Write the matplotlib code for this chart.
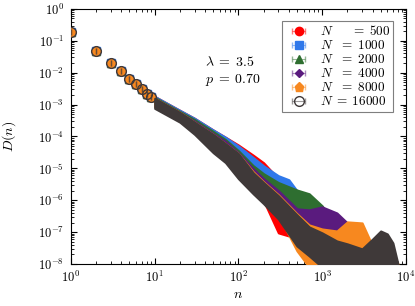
import numpy as np
import matplotlib
matplotlib.use("Agg")
import matplotlib.pyplot as plt

plt.rcParams["font.family"] = "serif"
plt.rcParams["font.serif"] = ["cmr10", "DejaVu Serif"]
plt.rcParams["mathtext.fontset"] = "cm"
plt.rcParams["axes.formatter.use_mathtext"] = True

# first points, identical for every N
n_head = [1, 2, 3, 4, 5, 6, 7, 8, 9]
D_head = [0.19, 0.048, 0.020, 0.011, 0.0064, 0.0044, 0.0030, 0.0022, 0.0017]

# band of points (upper / lower envelope) for larger n
n_500 = [10, 20, 30, 50, 70, 100, 150, 200, 300, 400, 500]
hi_500 = [1.8e-3, 6.6e-4, 3.7e-4, 1.6e-4, 9.5e-5, 5.4e-5, 2.6e-5, 1.5e-5, 4.75e-6, 9.6e-7, 1.95e-7]
lo_500 = [1.0e-3, 3.7e-4, 2.1e-4, 9.3e-5, 5.2e-5, 2.5e-5, 8.5e-6, 9.6e-7, 9.5e-8, 7.6e-8, 1.3e-7]

n_1000 = [10, 20, 30, 50, 70, 100, 150, 200, 300, 400, 500, 700, 1000]
hi_1000 = [1.8e-3, 6.6e-4, 3.7e-4, 1.6e-4, 9.5e-5, 5.0e-5, 2.2e-5, 1.2e-5, 5.9e-6, 4.4e-6, 2.0e-6, 4.0e-7, 1.26e-7]
lo_1000 = [1.0e-3, 3.7e-4, 2.1e-4, 9.3e-5, 5.2e-5, 2.5e-5, 9.8e-6, 4.1e-6, 6.7e-7, 1.57e-7, 3.7e-8, 5.3e-8, 9.5e-8]

n_2000 = [10, 20, 30, 50, 70, 100, 150, 200, 300, 500, 700, 1000, 1500, 2000]
hi_2000 = [1.69e-3, 6.1e-4, 3.4e-4, 1.44e-4, 8.0e-5, 3.6e-5, 1.22e-5, 6.8e-6, 3.6e-6, 2.1e-6, 1.6e-6, 6.7e-7, 1.57e-7, 6.1e-8]
lo_2000 = [9.5e-4, 3.4e-4, 1.9e-4, 8.0e-5, 4.5e-5, 2.0e-5, 7.3e-6, 2.9e-6, 9.6e-7, 2.3e-7, 7.6e-8, 3.7e-8, 3.7e-8, 5.3e-8]

n_4000 = [10, 20, 30, 50, 70, 100, 150, 200, 300, 500, 700, 1000, 1500, 2000, 3000, 4000]
hi_4000 = [1.57e-3, 5.7e-4, 3.0e-4, 1.24e-4, 7.0e-5, 3.1e-5, 9.8e-6, 4.75e-6, 2.0e-6, 5.4e-7, 5.0e-7, 6.2e-7, 4.0e-7, 1.95e-7, 5.3e-8, 2.6e-8]
lo_4000 = [8.8e-4, 3.2e-4, 1.55e-4, 5.2e-5, 2.5e-5, 9.0e-6, 3.0e-6, 1.5e-6, 4.0e-7, 1.26e-7, 5.3e-8, 2.6e-8, 1.8e-8, 1.8e-8, 1.8e-8, 1.8e-8]

n_8000 = [10, 20, 30, 50, 70, 100, 150, 200, 300, 500, 700, 1000, 1500, 2000, 3000, 4000, 5000, 8000]
hi_8000 = [1.57e-3, 5.7e-4, 2.8e-4, 1.16e-4, 6.0e-5, 2.9e-5, 7.9e-6, 3.8e-6, 1.49e-6, 3.8e-7, 1.69e-7, 1.26e-7, 1.09e-7, 2.1e-7, 1.95e-7, 3.7e-8, 1.66e-8, 1.07e-8]
lo_8000 = [8.8e-4, 3.0e-4, 1.4e-4, 4.5e-5, 2.2e-5, 7.0e-6, 2.4e-6, 1.1e-6, 3.5e-7, 2.6e-8, 8e-9, 8e-9, 8e-9, 8e-9, 8e-9, 8e-9, 8e-9, 8e-9]

n_16000 = [10, 20, 30, 50, 70, 100, 150, 200, 300, 500, 700, 1000, 1500, 2000, 3000, 4000, 5000, 6000, 7000, 8000]
hi_16000 = [1.57e-3, 5.7e-4, 2.8e-4, 1.16e-4, 6.0e-5, 2.9e-5, 7.3e-6, 3.6e-6, 1.39e-6, 3.5e-7, 1.46e-7, 9.5e-8, 5.3e-8, 4.3e-8, 3.0e-8, 6.1e-8, 1.09e-7, 8.8e-8, 4.6e-8, 1.07e-8]
lo_16000 = [7.6e-4, 2.8e-4, 1.16e-4, 3.1e-5, 1.52e-5, 4.75e-6, 1.6e-6, 7.8e-7, 2.6e-7, 3.7e-8, 1.8e-8, 8e-9, 8e-9, 8e-9, 8e-9, 8e-9, 8e-9, 8e-9, 8e-9, 8e-9]

sizes = [500, 1000, 2000, 4000, 8000, 16000]
bands = [(n_500, hi_500, lo_500), (n_1000, hi_1000, lo_1000), (n_2000, hi_2000, lo_2000),
         (n_4000, hi_4000, lo_4000), (n_8000, hi_8000, lo_8000), (n_16000, hi_16000, lo_16000)]
labels = [r"$N\quad\enspace\;=\; 500$", r"$N\enspace\;=\; 1000$", r"$N\enspace\;=\; 2000$",
          r"$N\enspace\;=\; 4000$", r"$N\enspace\;=\; 8000$", r"$N\;=\;16000$"]
colors = ["#ff0000", "#2f78ea", "#2e6e30", "#5a1b7e", "#f7881f", "#3f3939"]
markers = ["o", "s", "^", "D", "p", "o"]
msizes = [6, 6, 6, 4.5, 6.5, 7]

fig = plt.figure(figsize=(4.15, 3.06), dpi=100)
ax = fig.add_axes([0.171, 0.137, 0.807, 0.834])

for i in range(len(sizes)):
    n, hi, lo = bands[i]
    ax.fill_between(n, lo, hi, color=colors[i], lw=1.5, ec=colors[i], zorder=2 + i)
    face = "none" if i == 5 else colors[i]
    h = ax.errorbar(n_head, D_head, xerr=np.zeros(len(n_head)), fmt=markers[i], ms=msizes[i],
                    mfc=face, mec=colors[i], mew=1.0, ecolor=colors[i], elinewidth=0.8,
                    capsize=2.5, zorder=2 + i, label=labels[i])
    h[2][0].set_alpha(0.5)
    for c in h[1]:
        c.set_alpha(0.5)

ax.set_xscale("log")
ax.set_yscale("log")
ax.set_xlim(1, 1e4)
ax.set_ylim(1e-8, 1)
ax.set_xlabel(r"$n$", fontsize=10, labelpad=3)
ax.set_ylabel(r"$D(n)$", fontsize=10, labelpad=14)
ax.tick_params(which="both", direction="in", top=True, right=True, labelsize=9)
ax.tick_params(which="major", length=4, width=0.8)
ax.tick_params(which="minor", length=2, width=0.6)
ax.yaxis.set_major_locator(matplotlib.ticker.LogLocator(base=10, numticks=20))
ax.yaxis.set_minor_locator(matplotlib.ticker.LogLocator(base=10, subs=np.arange(2, 10), numticks=20))
ax.xaxis.set_minor_locator(matplotlib.ticker.LogLocator(base=10, subs=np.arange(2, 10), numticks=20))
ax.xaxis.set_tick_params(pad=4)
ax.yaxis.set_tick_params(pad=5)

ax.text(0.40, 0.79, r"$\lambda\;=\;3.5$", transform=ax.transAxes, fontsize=10, va="center")
ax.text(0.40, 0.72, r"$p\;=\;0.70$", transform=ax.transAxes, fontsize=10, va="center")

leg = ax.legend(loc="upper right", bbox_to_anchor=(0.963, 0.953), fontsize=9.5, fancybox=False,
                edgecolor="#7f7f7f", framealpha=1, handlelength=2.0, labelspacing=0.08,
                borderpad=0.25, handletextpad=0.6, borderaxespad=0)
leg.get_frame().set_linewidth(0.8)

fig.savefig("out.png", dpi=100)
